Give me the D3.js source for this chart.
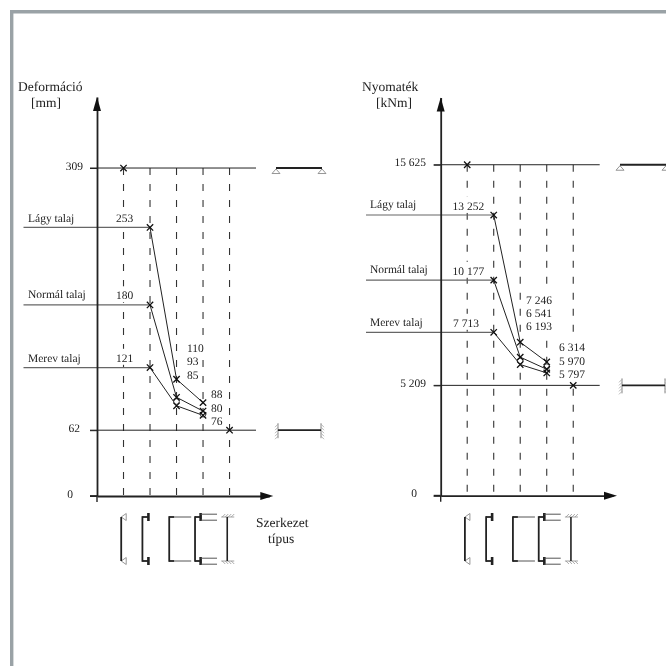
<!DOCTYPE html>
<html>
<head>
<meta charset="utf-8">
<script src="https://cdnjs.cloudflare.com/ajax/libs/d3/7.8.5/d3.min.js"></script>
<style>
    html, body { margin: 0; padding: 0; background: #fff; }
    svg { display: block; filter: blur(0.35px); }
    text { font-family: "Liberation Serif", serif; fill: #222; text-rendering: geometricPrecision; }
</style>
</head>
<body>
<div id="chart"></div>
<script>
// categories: the five structure types and the soil classes
const types = [1, 2, 3, 4, 5];
const soils = ["Lágy talaj", "Normál talaj", "Merev talaj"];

// Deformáció [mm]
const deformSoft = [253, 110, 88];
const deformNormal = [180, 93, 80];
const deformStiff = [121, 85, 76];
const deformPinned = 309;
const deformFixed = 62;
const deformCircles = [89, 77];
const deformTicks = [0, 62, 309];

// Nyomaték [kNm]
const momentSoft = [13252, 7246, 6314];
const momentNormal = [10177, 6541, 5970];
const momentStiff = [7713, 6193, 5797];
const momentPinned = 15625;
const momentFixed = 5209;
const momentCircles = [6370, 6090];
const momentTicks = [0, 5209, 15625];

const soilTypes = [2, 3, 4]; // columns the soil series run through
const fmt = d => String(d).replace(/\B(?=(\d{3})+$)/g, " ");

let svg = d3.select("#chart").append("svg")
    .attr("width", 666)
    .attr("height", 666);

// grey frame, open to the right and bottom
svg.append("path")
    .attr("d", "M11.7,666V11.7H666")
    .attr("fill", "none")
    .attr("stroke", "#9aa2a6")
    .attr("stroke-width", 3.4);

function label(g, x, y, str, size) {
    return g.append("text")
        .attr("x", x)
        .attr("y", y)
        .attr("dy", "0.33em")
        .attr("font-size", size)
        .text(str);
}

// value label with a white box behind it, this hides the guides it sits on
function maskedLabel(g, x, y, str, size) {
    let t = label(g, x, y, str, size);
    let b = t.node().getBBox();
    g.insert("rect", "text")
        .attr("x", b.x - 1)
        .attr("y", b.y - 4)
        .attr("width", b.width + 2)
        .attr("height", b.height + 4)
        .attr("fill", "#fff");
}

function seg(g, x1, y1, x2, y2, color, w) {
    g.append("line")
        .attr("x1", x1).attr("y1", y1)
        .attr("x2", x2).attr("y2", y2)
        .attr("stroke", color)
        .attr("stroke-width", w);
}

// little triangle support, given as three corners
function tri(g, pts) {
    g.append("path")
        .attr("d", "M" + pts.join("L") + "Z")
        .attr("fill", "#fff")
        .attr("stroke", "#8a8a8a")
        .attr("stroke-width", 0.9);
}

function hatch(g, x1, x2, y, dir) {
    seg(g, x1, y, x2, y, "#8a8a8a", 0.8);
    for (let x = x1 + 1; x < x2; x += 3) {
        seg(g, x, y, x + 3, y + dir * 3, "#8a8a8a", 0.7);
    }
}

// sketches of the five structures, under the columns
function drawTypes(g, x) {
    const top = 517, bot = 561;
    const dark = "#222", thin = "#555";

    let a = x(1) - 2.3;
    tri(g, [[a, top], [a + 5, top - 3.5], [a + 5, top + 3.5]]);
    tri(g, [[a, bot], [a + 5, bot - 3.5], [a + 5, bot + 3.5]]);
    seg(g, a, top, a, bot, dark, 1.8);

    a = x(2) - 7.6;
    seg(g, a, top - 0.8, a, bot + 0.8, dark, 1.8);
    [top, bot].forEach(y => {
        seg(g, a, y, a + 6, y, dark, 1.8);
        seg(g, a + 6, y - 4, a + 6, y + 4, dark, 2.6);
    });

    a = x(3) - 7.3;
    seg(g, a, top - 0.8, a, bot + 0.8, dark, 1.8);
    [top, bot].forEach(y => {
        seg(g, a, y, a + 5, y, dark, 1.8);
        seg(g, a + 5, y, a + 22, y, thin, 1);
    });

    a = x(4) - 8;
    seg(g, a, top - 0.8, a, bot + 0.8, dark, 1.8);
    [top, bot].forEach(y => {
        seg(g, a, y, a + 5.6, y, dark, 1.8);
        seg(g, a + 5.6, y - 4, a + 5.6, y + 4, dark, 2.6);
        seg(g, a + 5.6, y - 2.8, a + 22, y - 2.8, thin, 1);
        seg(g, a + 5.6, y + 3.2, a + 22, y + 3.2, thin, 1);
    });

    a = x(5) - 2.3;
    hatch(g, a - 6, a + 7, top, -1);
    hatch(g, a - 6, a + 7, bot, 1);
    seg(g, a, top, a, bot, dark, 1.6);
}

function drawPanel(p) {
    let g = svg.append("g");

    let x = d3.scaleLinear().domain([0, 6.5]).range(p.xRange);
    let y = d3.scaleLinear().domain(p.yDomain).range(p.yRange);
    let x0 = x(0), y0 = y(0);
    let top = y(p.pinned);

    // dashed column guides
    g.selectAll(".guide")
        .data(types)
        .enter().append("line")
        .attr("class", "guide")
        .attr("x1", d => x(d))
        .attr("x2", d => x(d))
        .attr("y1", top)
        .attr("y2", y0)
        .attr("stroke", "#333")
        .attr("stroke-width", 1.1)
        .attr("stroke-dasharray", "7,9");

    // value labels mask the guides behind them, so they go here
    p.texts.forEach(t => maskedLabel(g, t[0], t[1], t[2], 11.5));
    soils.forEach((s, i) => label(g, p.soilTextX, p.soilTextY[i], s, 11.5));

    // reference lines of the pinned and the fixed beam
    [p.pinned, p.fixed].forEach(v => {
        seg(g, x0 - 7, y(v), x0 + 159, y(v), "#222", 1);
    });

    // soil lines from the left
    p.series.forEach(s => {
        seg(g, p.soilLineX, y(s[0]), x(soilTypes[0]), y(s[0]), "#666", 1.2);
    });

    // axes
    let yAxis = d3.axisLeft(y).tickValues(p.ticks).tickSize(7).tickSizeOuter(0).tickFormat(fmt);
    let yAxisG = g.append("g").attr("transform", "translate(" + x0 + ",0)").call(yAxis);
    yAxisG.select(".domain").attr("stroke", "#222").attr("stroke-width", 1.8);
    yAxisG.selectAll(".tick line").attr("stroke", "#222").attr("stroke-width", 1);
    yAxisG.selectAll(".tick text")
        .attr("x", (d, i) => p.tickEnd[i] - x0)
        .attr("dy", "0.1em")
        .attr("font-size", 11.5)
        .attr("font-family", "Liberation Serif")
        .attr("fill", "#222");

    let xAxis = d3.axisBottom(x).tickValues([]).tickSizeOuter(0);
    let xAxisG = g.append("g").attr("transform", "translate(0," + y0 + ")").call(xAxis);
    xAxisG.select(".domain").attr("stroke", "#222").attr("stroke-width", 1.8);

    seg(g, x0 - 7, y0, x0, y0, "#222", 1.8);
    seg(g, x0, y0, x0, y0 + 6, "#222", 1.4);

    g.append("path")
        .attr("d", d3.line()([[x0, y.range()[1]], [x0 + 4, y.range()[1] + 14], [x0 - 4, y.range()[1] + 14]]) + "Z")
        .attr("fill", "#111");
    let xEnd = x.range()[1];
    g.append("path")
        .attr("d", d3.line()([[xEnd + 4, y0], [xEnd - 9, y0 - 4], [xEnd - 9, y0 + 4]]) + "Z")
        .attr("fill", "#111");

    // soil series
    let line = d3.line()
        .x((d, i) => x(soilTypes[i]))
        .y(d => y(d));
    g.selectAll(".soil")
        .data(p.series)
        .enter().append("path")
        .attr("class", "soil")
        .attr("d", line)
        .attr("fill", "none")
        .attr("stroke", "#222")
        .attr("stroke-width", 1);

    // unlabelled open circles sitting between the crosses
    g.selectAll(".ring")
        .data(p.circles)
        .enter().append("circle")
        .attr("class", "ring")
        .attr("cx", (d, i) => x(soilTypes[i + 1]))
        .attr("cy", d => y(d))
        .attr("r", 2.8)
        .attr("fill", "#fff")
        .attr("stroke", "#333")
        .attr("stroke-width", 0.9);

    // crosses
    let crosses = [[1, p.pinned], [5, p.fixed]];
    p.series.forEach(s => s.forEach((v, i) => crosses.push([soilTypes[i], v])));
    g.selectAll(".cross")
        .data(crosses)
        .enter().append("path")
        .attr("class", "cross")
        .attr("transform", d => "translate(" + x(d[0]) + "," + y(d[1]) + ")")
        .attr("d", d3.symbol().type(d3.symbolTimes).size(28))
        .attr("fill", "none")
        .attr("stroke", "#111")
        .attr("stroke-width", 1.3);

    // beam sketches right of the chart
    let bx = p.beamX;
    let by = y(p.pinned);
    tri(g, [[bx, by + 1], [bx + 4, by + 5.5], [bx - 4, by + 5.5]]);
    tri(g, [[bx + 46, by + 1], [bx + 50, by + 5.5], [bx + 42, by + 5.5]]);
    seg(g, bx, by, bx + 46, by, "#222", 2);

    by = y(p.fixed);
    [bx + 2, bx + 45].forEach((h, k) => {
        seg(g, h, by - 7, h, by + 8, "#8a8a8a", 1);
        let dir = k ? 1 : -1;
        for (let v = by - 6; v < by + 8; v += 3) {
            seg(g, h, v, h + dir * 3, v + 3, "#9a9a9a", 0.7);
        }
    });
    seg(g, bx + 2, by, bx + 45, by, "#222", 1.8);

    drawTypes(g, x);
}

drawPanel({
    xRange: [97, 269.3],
    yDomain: [0, 376],
    yRange: [496, 96.9],
    pinned: deformPinned,
    fixed: deformFixed,
    ticks: deformTicks,
    tickEnd: [73, 80, 83],
    series: [deformSoft, deformNormal, deformStiff],
    circles: deformCircles,
    soilLineX: 23.5,
    soilTextX: 28,
    soilTextY: [218, 294, 358],
    beamX: 276,
    texts: [
        [116, 218, fmt(deformSoft[0])], [116, 295.5, fmt(deformNormal[0])], [116, 358, fmt(deformStiff[0])],
        [187, 348, fmt(deformSoft[1])], [187, 361.5, fmt(deformNormal[1])], [187, 375, fmt(deformStiff[1])],
        [211, 394, fmt(deformSoft[2])], [211, 408, fmt(deformNormal[2])], [211, 421, fmt(deformStiff[2])]
    ]
});

drawPanel({
    xRange: [440.7, 613],
    yDomain: [0, 18800],
    yRange: [495.7, 97.5],
    pinned: momentPinned,
    fixed: momentFixed,
    ticks: momentTicks,
    tickEnd: [417, 426, 426],
    series: [momentSoft, momentNormal, momentStiff],
    circles: momentCircles,
    soilLineX: 366,
    soilTextX: 370,
    soilTextY: [204, 269, 322],
    beamX: 620,
    texts: [
        [452.5, 206, fmt(momentSoft[0])], [452.5, 271, fmt(momentNormal[0])], [453, 323, fmt(momentStiff[0])],
        [526, 300, fmt(momentSoft[1])], [526, 313, fmt(momentNormal[1])], [526, 326, fmt(momentStiff[1])],
        [559, 347, fmt(momentSoft[2])], [559, 361, fmt(momentNormal[2])], [559, 374, fmt(momentStiff[2])]
    ]
});

// titles
label(svg, 18, 87, "Deformáció", 13.5);
label(svg, 31, 103, "[mm]", 13.5);
label(svg, 362, 87, "Nyomaték", 13.5);
label(svg, 376, 103, "[kNm]", 13.5);
label(svg, 256, 522.5, "Szerkezet", 13.5);
label(svg, 268, 539, "típus", 13.5);
</script>
</body>
</html>
